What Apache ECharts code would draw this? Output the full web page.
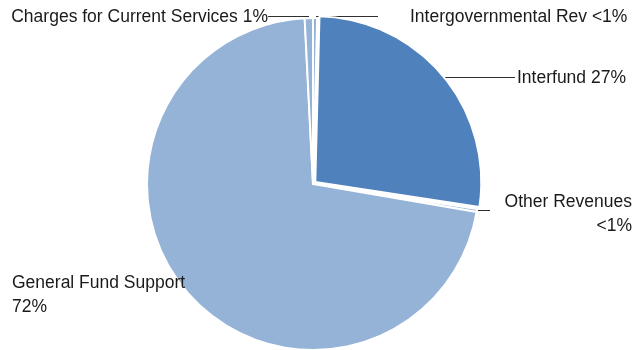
<!DOCTYPE html>
<html>
<head>
<meta charset="utf-8" />
<title>Revenue pie</title>
<style>
  html, body { margin: 0; padding: 0; background: #fff; }
  #main { width: 635px; height: 350px; }
</style>
</head>
<body>
<div id="main"></div>
<script src="https://cdn.jsdelivr.net/npm/echarts@6/dist/echarts.min.js"></script>
<script>
// clockwise from 12 o'clock
const categories = ['Intergovernmental Rev', 'Interfund', 'Other Revenues', 'General Fund Support', 'Charges for Current Services'];
const shares = [0.4, 27, 0.3, 71.5, 0.8];
const pctLabels = ['<1%', '27%', '<1%', '72%', '1%'];

const light = '#95B3D7';
const dark = '#4F81BD';
const exploded = 1; // Interfund is pulled out a little

// where each label sits, plus its leader line
const labelSpots = [
  { x: 410, y: 17, align: 'left', line: [[316, 16.5], [350, 16.5], [378, 16.5]] },
  { x: 517, y: 78, align: 'left', line: [[440, 77.5], [480, 77.5], [515, 77.5]] },
  { x: 632, y: 214, align: 'right', line: [[478, 210.5], [484, 210.5], [490, 210.5]] },
  { x: 12, y: 295, align: 'left', line: [[190, 290.5], [188, 290.5], [186, 290.5]] },
  { x: 268, y: 17, align: 'right', line: [[309, 16.5], [288, 16.5], [268, 16.5]] }
];

const labelText = [
  categories[0] + ' ' + pctLabels[0],
  categories[1] + ' ' + pctLabels[1],
  categories[2] + '\n' + pctLabels[2],
  categories[3] + '\n' + pctLabels[3],
  categories[4] + ' ' + pctLabels[4]
];

const cx = 313, cy = 184, r = 166;
// shift for the exploded slice, along its bisector
const before = shares.slice(0, exploded).reduce((a, b) => a + b, 0);
const total = shares.reduce((a, b) => a + b, 0);
const mid = (before + shares[exploded] / 2) / total * 2 * Math.PI;
const off = 3;

const chart = echarts.init(document.getElementById('main'));
chart.setOption({
  animation: false,
  series: [{
    type: 'pie',
    center: [cx, cy],
    radius: r,
    startAngle: 90,
    clockwise: true,
    avoidLabelOverlap: false,
    label: {
      show: true,
      fontFamily: '"Liberation Sans", Arial, sans-serif',
      fontSize: 17.5,
      lineHeight: 24,
      color: '#1a1a1a',
      formatter: p => labelText[p.dataIndex]
    },
    labelLine: { show: true, lineStyle: { color: '#303030', width: 1 } },
    labelLayout: p => {
      const s = labelSpots[p.dataIndex];
      return { x: s.x, y: s.y, align: s.align, verticalAlign: 'middle', labelLinePoints: s.line };
    },
    data: categories.map((c, i) => ({
      name: c,
      value: shares[i],
      itemStyle: i === exploded
        ? { color: 'rgba(0,0,0,0)', borderWidth: 0 }
        : { color: light, borderColor: '#fff', borderWidth: 2 },
      label: { align: labelSpots[i].align }
    }))
  }, {
    type: 'pie',
    silent: true,
    center: [cx + off * Math.sin(mid), cy - off * Math.cos(mid)],
    radius: r,
    startAngle: 90,
    clockwise: true,
    label: { show: false },
    labelLine: { show: false },
    data: categories.map((c, i) => ({
      name: c,
      value: shares[i],
      itemStyle: i === exploded
        ? { color: dark, borderColor: '#fff', borderWidth: 2 }
        : { color: 'rgba(0,0,0,0)', borderWidth: 0 }
    }))
  }]
});
</script>
</body>
</html>
